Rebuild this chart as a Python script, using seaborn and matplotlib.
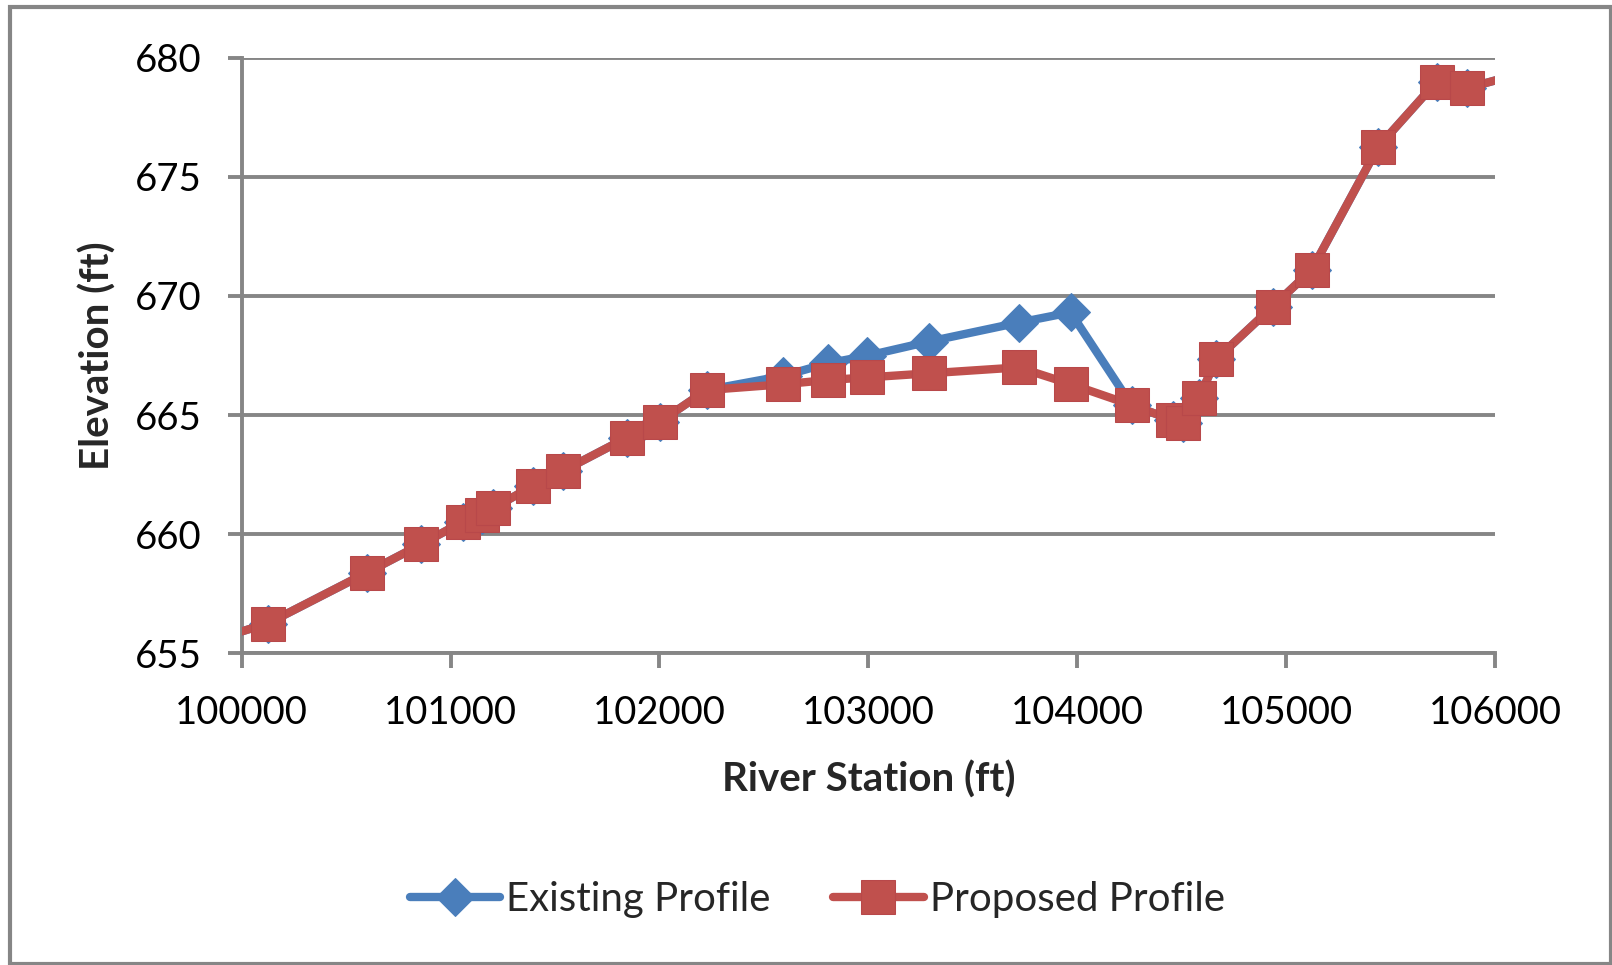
import numpy as np
import pandas as pd
import matplotlib
matplotlib.use("Agg")
import matplotlib.pyplot as plt
import seaborn as sns
from matplotlib.patches import Rectangle

# datos (River Station vs Elevation)
estacion = [99900, 100124, 100598, 100858, 101058, 101152, 101201, 101393,
            101537, 101843, 102002, 102226, 102590, 102805, 102995, 103288,
            103719, 103968, 104260, 104457, 104505, 104582, 104665, 104935,
            105122, 105441, 105720, 105864, 106150]
perfil_existente = [655.65, 656.25, 658.38, 659.57, 660.52, 660.80, 661.08, 662.02,
                    662.65, 664.05, 664.72, 666.05, 666.64, 667.17, 667.49, 668.08,
                    668.88, 669.31, 665.42, 664.79, 664.65, 665.70, 667.34, 669.55,
                    671.09, 676.26, 678.99, 678.72, 679.40]
perfil_propuesto = [655.65, 656.25, 658.38, 659.57, 660.52, 660.80, 661.08, 662.02,
                    662.65, 664.05, 664.72, 666.05, 666.29, 666.47, 666.58, 666.75,
                    667.00, 666.30, 665.42, 664.79, 664.65, 665.70, 667.34, 669.55,
                    671.09, 676.26, 678.99, 678.72, 679.40]
xticks = [100000, 101000, 102000, 103000, 104000, 105000, 106000]
yticks = [655, 660, 665, 670, 675, 680]

AZUL = "#4A7EBB"
ROJO = "#C0504D"
GRIS = "#868686"

sns.set_style("white")
plt.rcParams["font.family"] = ["Lato", "DejaVu Sans"]

df = pd.DataFrame({"x": estacion, "existente": perfil_existente,
                   "propuesto": perfil_propuesto})

fig = plt.figure(figsize=(16.12, 9.65), dpi=100)
ax = fig.add_axes([0.14994, 0.32301, 0.77748, 0.61720])

# la existente va abajo, la propuesta encima
sns.lineplot(data=df, x="x", y="existente", ax=ax, sort=False, color=AZUL,
             lw=6, marker="D", markersize=19, markeredgecolor=AZUL,
             solid_joinstyle="round", solid_capstyle="round",
             label="Existing Profile", zorder=3)
sns.lineplot(data=df, x="x", y="propuesto", ax=ax, sort=False, color=ROJO,
             lw=6, marker="s", markersize=24, markeredgecolor="#B8484A",
             solid_joinstyle="round", solid_capstyle="round",
             label="Proposed Profile", zorder=4)

ax.set_xlim(100000, 106000)
ax.set_ylim(655, 680)
ax.set_xticks(xticks)
ax.set_yticks(yticks)
ax.set_xticklabels([str(t) for t in xticks])
ax.set_yticklabels([str(t) for t in yticks])

ax.yaxis.grid(True, color=GRIS, lw=2.8)
ax.xaxis.grid(False)
ax.set_axisbelow(True)
for lado in ["top", "right"]:
    ax.spines[lado].set_visible(False)
for lado in ["left", "bottom"]:
    ax.spines[lado].set_color(GRIS)
    ax.spines[lado].set_linewidth(2.8)

ax.tick_params(axis="y", left=True, length=10, width=2.8, color=GRIS,
               pad=19, labelsize=27.5, labelcolor="black")
ax.tick_params(axis="x", bottom=True, length=11, width=2.8, color=GRIS,
               pad=19, labelsize=27.5, labelcolor="black")

ax.set_xlabel("River Station (ft)", fontsize=29, fontweight="bold", va="center")
ax.set_ylabel("Elevation (ft)", fontsize=29, fontweight="bold", va="center")
ax.xaxis.set_label_coords(0.5, -0.212)
ax.yaxis.set_label_coords(-0.115, 0.5)

ax.legend(loc="center", bbox_to_anchor=(0.507, 0.068), bbox_transform=fig.transFigure,
          ncol=2, frameon=False, fontsize=29, handlelength=2.25,
          handletextpad=0.15, columnspacing=1.55)

# borde del grafico estilo excel
fig.add_artist(Rectangle((0.0059, 0.001), 0.9932, 0.9917, transform=fig.transFigure,
                         fill=False, ec=GRIS, lw=3))

fig.savefig("out.png", dpi=100)
